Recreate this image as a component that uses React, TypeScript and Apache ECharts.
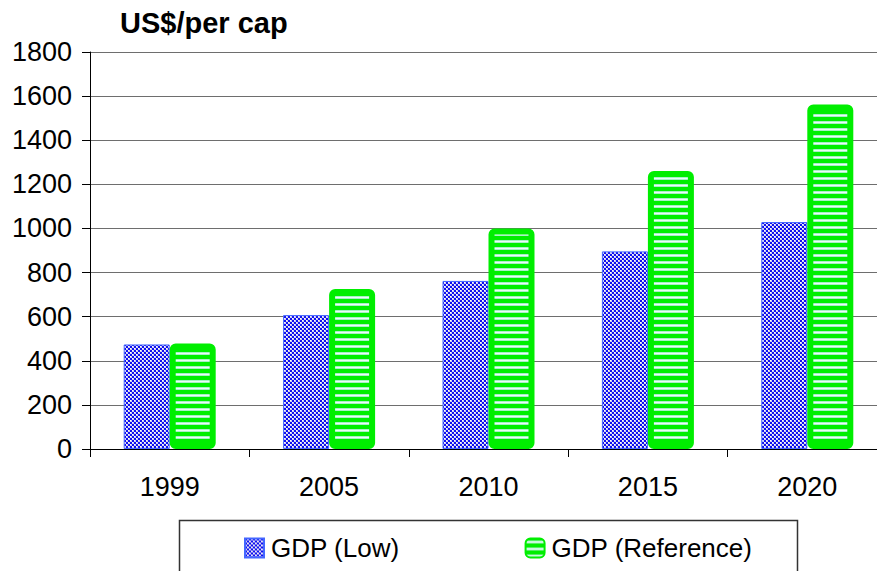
import React, { useEffect, useRef } from "react";
import * as echarts from "echarts";

const categories = ["1999", "2005", "2010", "2015", "2020"];
const gdpLow = [474, 607, 762, 896, 1029];
const gdpReference = [478, 726, 1000, 1260, 1562];
const yTicks = [0, 200, 400, 600, 800, 1000, 1200, 1400, 1600, 1800];

function makeChecker(): HTMLCanvasElement {
  const c = document.createElement("canvas");
  c.width = 4;
  c.height = 4;
  const ctx = c.getContext("2d")!;
  ctx.fillStyle = "#1010f0";
  ctx.fillRect(0, 0, 4, 4);
  ctx.fillStyle = "#d0d0ee";
  ctx.fillRect(2, 0, 2, 2);
  ctx.fillRect(0, 2, 2, 2);
  ctx.fillStyle = "#ffffff";
  ctx.fillRect(2, 0, 1, 1);
  ctx.fillRect(0, 2, 1, 1);
  return c;
}

function makeStripes(): HTMLCanvasElement {
  const c = document.createElement("canvas");
  c.width = 8;
  c.height = 7;
  const ctx = c.getContext("2d")!;
  ctx.fillStyle = "#00ee00";
  ctx.fillRect(0, 0, 8, 7);
  ctx.fillStyle = "#a8f0c8";
  ctx.fillRect(0, 2, 8, 1);
  ctx.fillRect(0, 4, 8, 1);
  ctx.fillStyle = "#e8fff4";
  ctx.fillRect(0, 3, 8, 1);
  return c;
}

export default function App() {
  const ref = useRef<HTMLDivElement>(null);
  useEffect(() => {
    document.body.style.margin = "0";
    const chart = echarts.init(ref.current!, null, { renderer: "svg" });
    const checker = { image: makeChecker(), repeat: "repeat" };
    const stripes = { image: makeStripes(), repeat: "repeat" };
    const font = "'Liberation Sans', Arial, sans-serif";
    chart.setOption({
      animation: false,
      backgroundColor: "#ffffff",
      textStyle: { fontFamily: font },
      grid: { left: 90, top: 52, width: 797, height: 397, containLabel: false },
      graphic: [
        {
          type: "text",
          left: 120,
          top: 8,
          style: { text: "US$/per cap", font: `bold 29px ${font}`, fill: "#000" },
        },
        {
          type: "rect",
          shape: { x: 179.5, y: 520.5, width: 618, height: 70 },
          style: { fill: "#fff", stroke: "#333", lineWidth: 1.5 },
          z: -1,
        },
      ],
      legend: {
        left: 244,
        top: 535,
        padding: 0,
        itemWidth: 19,
        itemHeight: 19,
        itemGap: 125,
        textStyle: { fontSize: 26, color: "#000", fontFamily: font, padding: [0, 0, 0, 2] },
        data: [
          { name: "GDP (Low)", icon: "rect" },
          { name: "GDP (Reference)", icon: "roundRect" },
        ],
      },
      xAxis: {
        type: "category",
        data: categories,
        axisLine: { lineStyle: { color: "#000", width: 1 } },
        axisTick: { show: true, length: 8, lineStyle: { color: "#000" } },
        axisLabel: { fontSize: 27, color: "#000", margin: 24, fontFamily: font },
      },
      yAxis: {
        type: "value",
        min: 0,
        max: 1800,
        interval: 200,
        axisLine: { show: true, lineStyle: { color: "#000", width: 1 } },
        axisTick: { show: true, length: 8, lineStyle: { color: "#000" } },
        axisLabel: {
          fontSize: 27,
          color: "#000",
          margin: 18,
          fontFamily: font,
          formatter: (v: number) => (yTicks.includes(v) ? String(v) : ""),
        },
        splitLine: { show: true, lineStyle: { color: "#6e6e6e", width: 1 } },
      },
      series: [
        {
          name: "GDP (Low)",
          type: "bar",
          data: gdpLow,
          barWidth: 46,
          barGap: "0%",
          itemStyle: { color: checker, borderColor: "#4466ff", borderWidth: 1 },
        },
        {
          name: "GDP (Reference)",
          type: "bar",
          data: gdpReference,
          barWidth: 46,
          itemStyle: {
            color: stripes,
            borderColor: "#00ee00",
            borderWidth: 6,
            borderRadius: 3,
          },
        },
      ],
    });
    return () => chart.dispose();
  }, []);
  return (
    <div style={{ width: 877, height: 571, overflow: "hidden", position: "relative" }}>
      <div ref={ref} style={{ width: 900, height: 571 }} />
    </div>
  );
}
